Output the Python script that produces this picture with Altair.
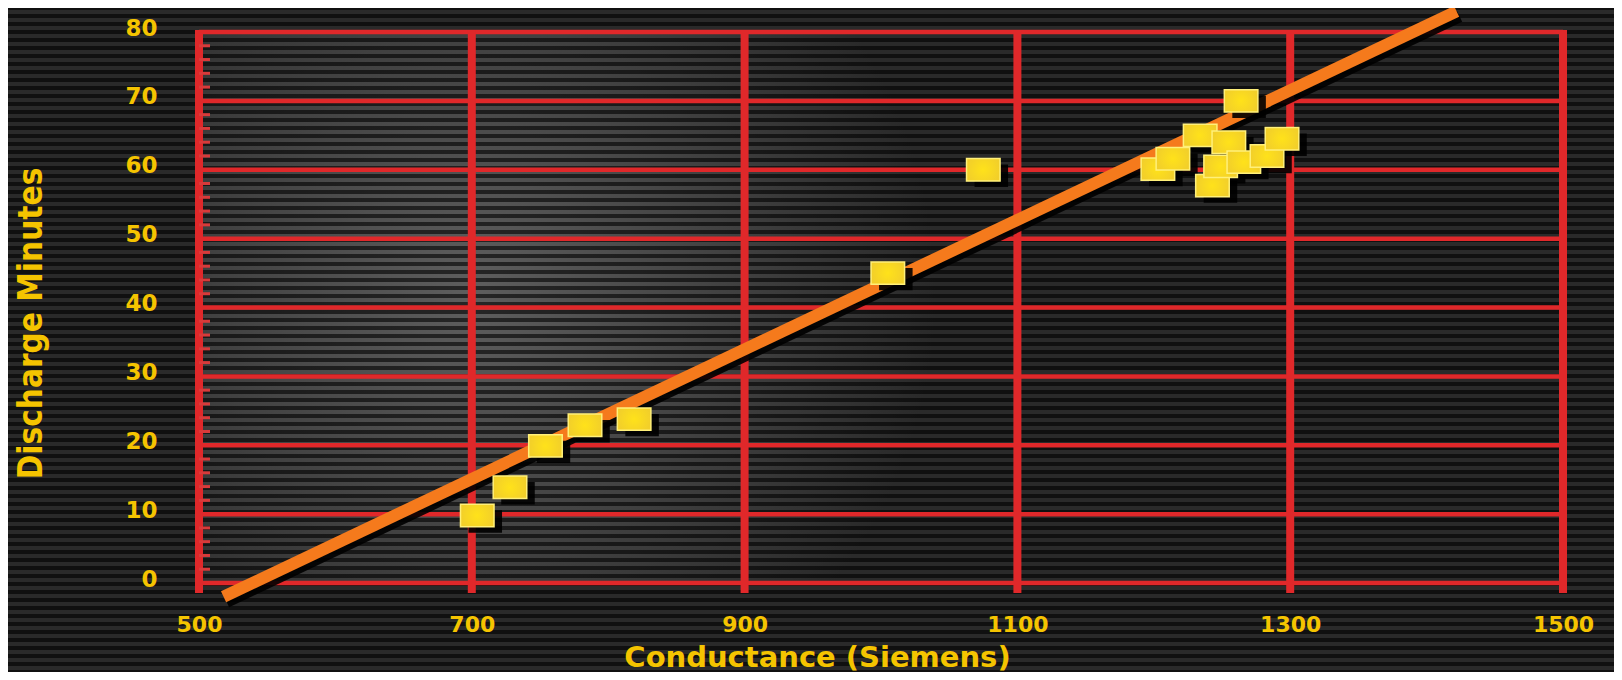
import altair as alt
import pandas as pd

# ---- data ----
conductance = [704, 728, 754, 783, 819, 1005, 1075, 1203, 1214, 1234, 1243, 1249, 1255, 1264, 1266, 1283, 1294]
minutes = [9.8, 13.9, 19.9, 22.9, 23.8, 45.0, 60.0, 60.1, 61.6, 65.0, 57.7, 60.5, 64.0, 70.0, 61.1, 62.0, 64.5]

fit_x = [518, 1422]
fit_y = [-2, 83]

x_ticks = [500, 700, 900, 1100, 1300, 1500]
y_ticks = [0, 10, 20, 30, 40, 50, 60, 70, 80]
y_minor = [v for v in range(2, 80, 2) if v % 10 != 0]

W, H = 1364, 551
YELLOW = "#f5c400"
RED = "#e0282a"
FONT_NUM = "DejaVu Sans"

pts = pd.DataFrame({"x": conductance, "y": minutes})
fit = pd.DataFrame({"x": fit_x, "y": fit_y})
xg = pd.DataFrame({"x": x_ticks})
yg = pd.DataFrame({"y": y_ticks})
ym = pd.DataFrame({"y": y_minor})
stripes = pd.DataFrame({"py": list(range(-24, 644, 8))})
one = pd.DataFrame({"k": [0]})

xs = alt.Scale(domain=[500, 1500], nice=False, zero=False)
ys = alt.Scale(domain=[0, 80], nice=False, zero=False)

x_axis = alt.Axis(
    values=x_ticks, format="d", grid=False, domain=False, ticks=False, tickSize=0,
    labelFont=FONT_NUM, labelFontSize=22, labelFontWeight="bold", labelColor=YELLOW,
    labelPadding=31, labelFlush=False, labelOverlap=False, labelBound=False,
    title="Conductance (Siemens)", titleFont=FONT_NUM, titleFontSize=29,
    titleFontWeight="bold", titleColor=YELLOW, titleX=618, titleY=83,
    titleBaseline="alphabetic", titleAlign="center", zindex=1,
)
y_axis = alt.Axis(
    values=y_ticks, format="d", grid=False, domain=False, ticks=False, tickSize=0,
    labelFont=FONT_NUM, labelFontSize=23, labelFontWeight="bold", labelColor=YELLOW,
    labelPadding=42, labelOffset=-4, labelFlush=False, labelOverlap=False, labelBound=False,
    title="Discharge Minutes",
    titleFont="'DejaVu Sans Condensed', 'DejaVu Sans', sans-serif",
    titleFontSize=33, titleFontWeight="bold", titleColor=YELLOW,
    titleX=-158, titleY=291, titleAngle=270, titleAlign="center",
    titleBaseline="alphabetic", zindex=1,
)

glow = alt.Chart(one).mark_rect(
    fill={
        "gradient": "radial",
        "x1": 0.2, "y1": 0.49, "x2": 0.2, "y2": 0.49,
        "r1": 0, "r2": 0.34,
        "stops": [
            {"offset": 0, "color": "#5e5e5e"},
            {"offset": 1, "color": "#2a2a2a"},
        ],
    }
).encode(x=alt.value(0), x2=alt.value(W), y=alt.value(0), y2=alt.value(H))

stripe_layer = alt.Chart(stripes).mark_rule(color="black", strokeWidth=4, opacity=0.6).encode(
    y=alt.Y("py:Q", scale=None),
    x=alt.value(-191),
    x2=alt.value(1415),
)

ygrid = alt.Chart(yg).mark_rule(color=RED, strokeWidth=4.5).encode(
    y=alt.Y("y:Q", scale=ys, axis=y_axis),
    x=alt.value(0),
    x2=alt.value(W),
)

xgrid = alt.Chart(xg).mark_rule(color=RED, strokeWidth=8).encode(
    x=alt.X("x:Q", scale=xs, axis=x_axis),
    y=alt.value(-2),
    y2=alt.value(H + 10),
)

minor = alt.Chart(ym).mark_rule(color="#d83a3a", strokeWidth=3).encode(
    y=alt.Y("y:Q", scale=ys),
    x=alt.value(0),
    x2=alt.value(11),
)

line_shadow = alt.Chart(fit).mark_line(color="black", strokeWidth=12, xOffset=3, yOffset=5, opacity=0.9).encode(
    x=alt.X("x:Q", scale=xs),
    y=alt.Y("y:Q", scale=ys),
)
line = alt.Chart(fit).mark_line(color="#f57a1c", strokeWidth=12).encode(
    x=alt.X("x:Q", scale=xs),
    y=alt.Y("y:Q", scale=ys),
)

RECT = "M-1.5,-1H1.5V1H-1.5Z"
sq_shadow = alt.Chart(pts).mark_point(
    shape=RECT, size=500, filled=True, fill="black", opacity=0.9, xOffset=8, yOffset=6, strokeWidth=0
).encode(x=alt.X("x:Q", scale=xs), y=alt.Y("y:Q", scale=ys))

grad = {
    "gradient": "radial",
    "stops": [
        {"offset": 0, "color": "#ffe21a"},
        {"offset": 1, "color": "#f2cf2a"},
    ],
}
squares = alt.Chart(pts).mark_point(
    shape=RECT, size=500, filled=True, fill=grad, opacity=1, stroke="#fff07a", strokeWidth=1.5
).encode(x=alt.X("x:Q", scale=xs), y=alt.Y("y:Q", scale=ys))

chart = alt.layer(
    glow, stripe_layer, ygrid, xgrid, minor, line_shadow, line, sq_shadow, squares
).properties(
    width=W, height=H,
    autosize=alt.AutoSizeParams(type="none"),
    padding={"left": 191, "top": 24, "right": 51, "bottom": 89},
    background="#2a2a2a",
).configure_view(
    stroke="transparent",
)

chart.save("out.html", embed_options={"renderer": "svg", "actions": False})
